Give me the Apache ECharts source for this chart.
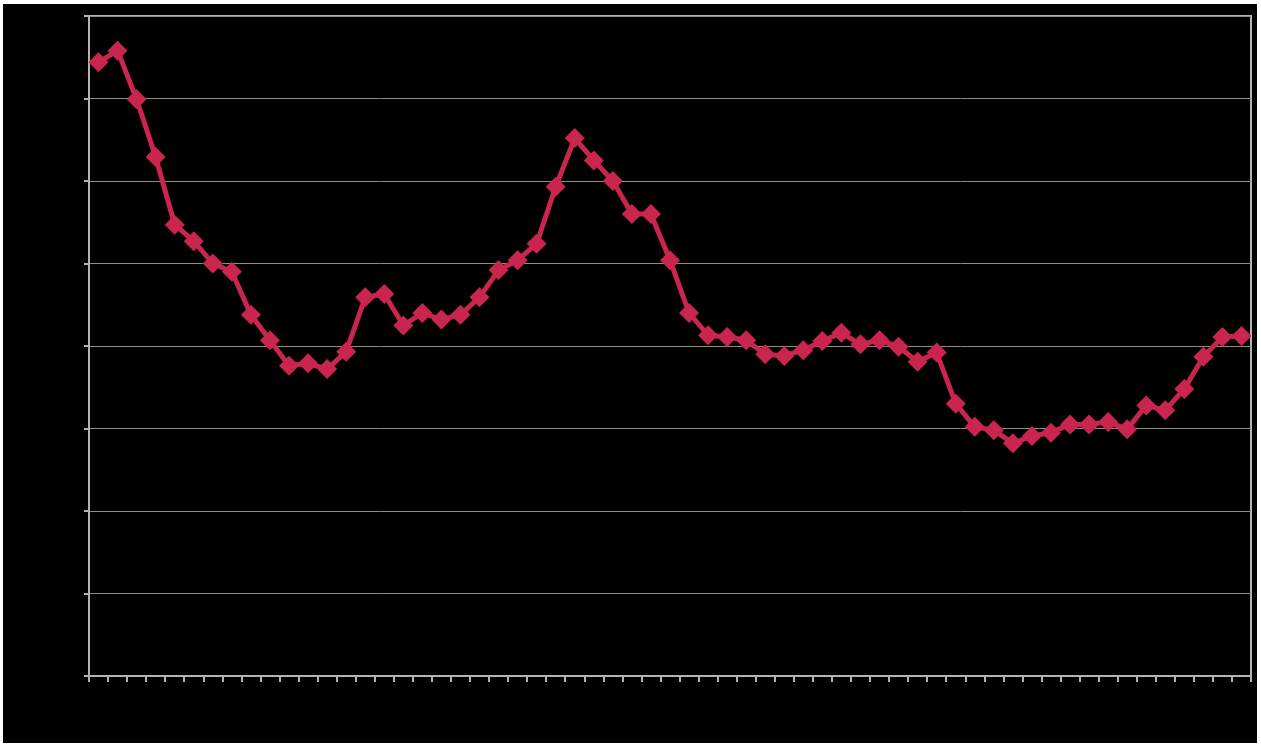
<!DOCTYPE html>
<html>
<head>
<meta charset="utf-8">
<script src="https://cdn.jsdelivr.net/npm/echarts@6/dist/echarts.min.js"></script>
<style>
html,body{margin:0;padding:0;background:#ffffff;width:1261px;height:747px;overflow:hidden;}
#chart{position:absolute;left:3px;top:4px;width:1254px;height:739px;background:#000;}
</style>
</head>
<body>
<div id="chart"></div>
<script>
const categories = Array.from({length: 61}, (_, i) => String(i + 1));
const values = [
  7.44, 7.58, 6.99, 6.29, 5.47, 5.27, 5.00, 4.90, 4.38, 4.07,
  3.76, 3.79, 3.72, 3.93, 4.59, 4.63, 4.25, 4.40, 4.32, 4.38,
  4.59, 4.92, 5.04, 5.24, 5.93, 6.52, 6.25, 6.00, 5.60, 5.60,
  5.04, 4.40, 4.13, 4.11, 4.07, 3.90, 3.88, 3.95, 4.06, 4.16,
  4.02, 4.07, 3.99, 3.81, 3.92, 3.30, 3.02, 2.98, 2.82, 2.91,
  2.95, 3.05, 3.05, 3.08, 2.99, 3.28, 3.22, 3.48, 3.87, 4.11, 4.12
];
const yMin = 0, yMax = 8, yStep = 1;

const chart = echarts.init(document.getElementById('chart'), null, {renderer: 'canvas'});
chart.setOption({
  backgroundColor: '#000000',
  animation: false,
  grid: {
    left: 86, right: 6, top: 12, bottom: 67,
    show: true, borderColor: '#B3B3B3', borderWidth: 2, backgroundColor: 'transparent'
  },
  xAxis: {
    type: 'category',
    data: categories,
    boundaryGap: true,
    axisLine: {show: true, lineStyle: {color: '#B3B3B3', width: 2}},
    axisTick: {show: true, interval: 0, length: 6, lineStyle: {color: '#B3B3B3', width: 2}},
    axisLabel: {show: false},
    splitLine: {show: false}
  },
  yAxis: {
    type: 'value',
    min: yMin, max: yMax, interval: yStep,
    axisLine: {show: true, lineStyle: {color: '#B3B3B3', width: 2}},
    axisTick: {show: true, length: 5, lineStyle: {color: '#B3B3B3', width: 2}},
    axisLabel: {show: false},
    splitLine: {show: true, lineStyle: {color: '#8C8C8C', width: 1}}
  },
  series: [{
    type: 'line',
    data: values,
    showSymbol: true,
    showAllSymbol: true,
    symbol: 'diamond',
    symbolSize: 20,
    lineStyle: {color: '#C9254E', width: 5},
    itemStyle: {color: '#C9254E'},
    z: 3
  }]
});
</script>
</body>
</html>
